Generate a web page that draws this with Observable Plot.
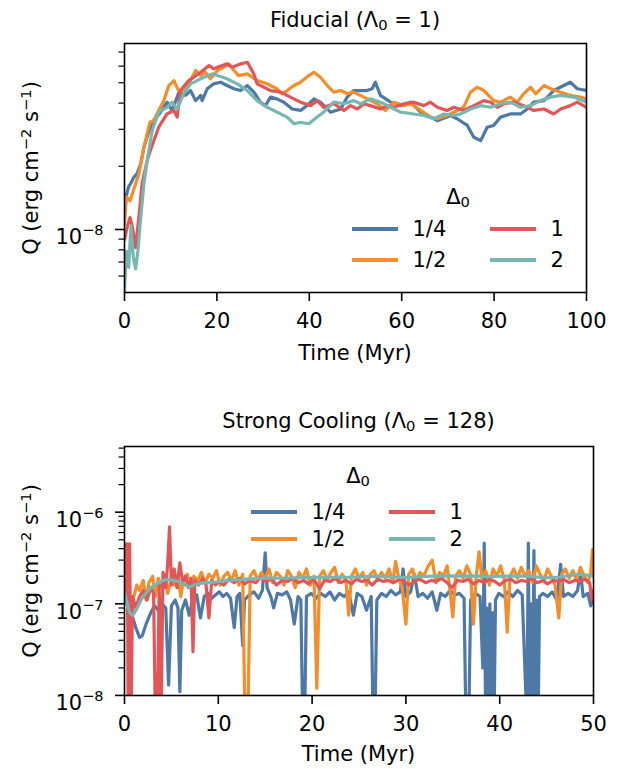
<!DOCTYPE html>
<html><head><meta charset="utf-8">
<script src="https://cdn.jsdelivr.net/npm/d3@7"></script>
<script src="https://cdn.jsdelivr.net/npm/@observablehq/plot@0.6"></script>
<style>
body{margin:0;background:#fff;font-family:"DejaVu Sans",sans-serif;}
#root{position:relative;width:632px;height:769px;overflow:hidden;background:#fff;}
.t{position:absolute;white-space:nowrap;font-size:21px;line-height:21px;height:21px;color:#000;font-family:"DejaVu Sans",sans-serif;}
.t sub{font-size:0.7em;line-height:0;vertical-align:-0.2em;}
.t sup{font-size:0.7em;line-height:0;vertical-align:0.45em;}
.ln{position:absolute;height:3.2px;}
.pl{position:absolute;left:0;}
</style></head><body><div id="root"></div>
<script>
// Series keys (Δ0) and colours
const keys = ["1/4", "1/2", "1", "2"];
const colors = ["#4e79a7", "#f28e2b", "#e15759", "#76b7b2"];

// ---------- Fiducial (Λ0 = 1): [time Myr, Q in 1e-8 erg cm^-2 s^-1]
const fid_q14 = [[0,1.2],[0.4,1.45],[0.9,1.6],[1.3,1.65],[2.0,1.77],[2.7,1.84],[3.5,2.05],[4.2,2.45],[5.2,2.9],[6.3,3.3],[7.8,3.62],[9.2,4.04],[10.3,3.69],[11.8,4.51],[13.2,4.35],[14.3,4.59],[15.4,4.11],[16.5,4.35],[16.8,4.11],[17.9,4.68],[19.3,4.94],[20.8,5.03],[22.2,4.85],[23.7,4.68],[25.1,4.59],[26.6,4.85],[28.0,4.51],[29.4,4.04],[30.5,3.89],[31.6,4.27],[33.0,4.19],[34.5,4.04],[36.3,3.75],[38.1,3.69],[39.5,3.89],[41.0,4.19],[42.4,4.04],[44.6,3.62],[46.8,3.75],[48.2,4.27],[49.6,4.59],[52.5,4.59],[53.6,4.68],[54.3,5.03],[55.4,4.35],[57.6,4.04],[59.7,3.89],[61.9,4.04],[64.1,3.62],[66.2,3.43],[67.7,3.30],[70.6,3.49],[72.0,3.37],[74.2,3.13],[75.6,2.75],[77.1,2.65],[78.5,3.07],[79.9,3.13],[81.4,3.43],[83.5,3.55],[85.7,3.55],[87.2,3.75],[88.6,4.04],[90.8,4.11],[92.9,4.59],[96.5,5.03],[98.0,4.68],[100,4.59]];
const fid_q12 = [[0,1.06],[0.4,1.43],[1.2,1.37],[1.7,1.48],[2.4,1.65],[3.1,1.84],[3.8,2.21],[4.2,2.47],[5.5,3.24],[6.3,3.30],[7.4,3.69],[8.5,4.11],[9.6,4.85],[10.7,5.12],[11.5,4.68],[12.1,4.51],[12.8,4.68],[13.9,4.94],[15.4,5.72],[16.5,5.41],[17.5,5.61],[18.6,5.22],[20.1,5.72],[21.5,5.93],[22.6,6.15],[23.7,5.72],[24.7,5.41],[26.6,5.51],[28.7,5.12],[30.9,4.94],[33.0,4.68],[34.1,4.43],[35.2,4.59],[36.7,4.85],[38.1,5.03],[39.9,5.41],[41.0,5.61],[42.4,5.31],[43.9,4.85],[45.3,4.51],[46.8,4.59],[48.2,4.43],[49.6,4.51],[51.8,4.27],[54.7,3.97],[56.5,3.69],[58.3,4.04],[60.5,3.89],[61.9,3.97],[64.1,3.69],[66.2,3.43],[67.7,3.37],[69.8,3.49],[71.3,3.62],[73.4,3.82],[74.9,4.51],[76.3,4.76],[77.8,4.59],[79.9,4.11],[81.4,4.04],[83.5,4.27],[85.0,4.04],[86.4,4.43],[87.9,4.76],[89.0,4.43],[90.8,4.85],[92.2,4.68],[94.4,4.51],[96.5,4.35],[98.7,4.27],[100,4.19]];
const fid_q1 = [[0,0.89],[0.6,1.03],[1.2,1.14],[1.7,1.03],[2.4,0.82],[3.1,1.14],[3.8,1.65],[4.9,2.13],[5.6,2.38],[7.4,3.07],[9.2,3.55],[10.7,3.69],[11.4,3.43],[12.1,4.59],[13.9,5.12],[15.0,5.31],[16.5,5.61],[18.3,6.04],[19.3,5.82],[20.1,5.93],[22.2,6.15],[23.3,5.93],[25.1,6.15],[26.6,6.26],[28.0,5.51],[28.7,4.94],[30.2,4.76],[31.6,4.59],[33.8,4.51],[35.9,4.27],[38.1,4.04],[40.3,3.89],[41.7,4.11],[43.1,3.82],[45.3,3.97],[47.5,3.69],[48.9,3.89],[50.4,3.75],[51.8,3.97],[53.2,3.89],[55.4,3.75],[56.9,3.89],[58.3,3.82],[60.5,3.97],[62.6,4.04],[64.8,3.89],[66.2,4.04],[67.7,3.82],[69.8,3.69],[71.3,3.82],[73.4,3.69],[75.6,3.89],[77.8,4.11],[79.2,4.04],[80.7,3.82],[82.1,3.97],[84.3,4.04],[86.4,3.89],[88.6,3.69],[90.8,3.75],[92.9,3.55],[94.4,3.75],[96.5,3.89],[98.0,4.04],[100,3.82]];
const fid_q2 = [[0,0.51],[0.4,0.79],[0.9,0.66],[1.4,1.04],[1.9,0.74],[2.4,0.65],[2.9,0.79],[3.5,1.14],[4.2,1.65],[4.9,2.13],[6.0,2.96],[7.4,3.62],[9.2,3.82],[10.3,4.04],[11.4,3.75],[12.8,4.43],[14.3,4.94],[15.7,5.12],[17.2,5.31],[19.0,5.51],[20.1,5.41],[22.2,5.22],[24.4,4.94],[26.6,4.59],[28.7,4.11],[30.9,3.82],[33.0,3.62],[35.2,3.43],[36.7,3.19],[38.1,3.24],[39.9,3.19],[41.7,3.43],[43.1,3.62],[45.3,4.04],[47.5,3.97],[49.6,4.11],[51.1,3.97],[53.2,4.19],[55.4,4.04],[57.6,3.82],[59.7,3.62],[62.6,3.55],[64.8,3.49],[67.0,3.37],[69.1,3.55],[71.3,3.49],[72.7,3.55],[74.9,3.75],[77.1,3.89],[79.2,3.82],[81.4,3.97],[83.5,4.04],[85.7,3.82],[87.9,3.89],[90.0,4.11],[92.2,4.27],[94.4,4.35],[97.3,4.27],[100,4.04]];

// ---------- Strong Cooling (Λ0 = 128): [time Myr, Q in 1e-7 erg cm^-2 s^-1]
const sc_q14 = [[0,1.1],[0.4,0.95],[0.8,0.75],[1.2,0.55],[1.6,0.43],[1.9,0.45],[2.3,0.6],[2.8,0.8],[3.2,0.95],[3.6,0.85],[4.0,1.0],[4.4,0.9],[4.7,0.13],[5.0,0.95],[5.4,1.1],[5.7,0.9],[5.9,0.11],[6.1,0.85],[6.5,1.1],[6.9,0.75],[7.3,1.15],[7.7,1.25],[8.1,0.7],[8.5,1.2],[8.9,1.3],[9.3,1.15],[9.7,1.25],[10.1,1.35],[10.5,1.2],[10.9,1.3],[11.3,1.15],[11.7,0.55],[12.0,1.2],[12.3,1.3],[12.6,0.35],[12.8,1.1],[13.3,1.25],[13.8,1.35],[14.3,1.15],[14.7,1.4],[15.0,3.6],[15.2,1.5],[15.6,1.2],[15.9,0.9],[16.3,1.3],[16.8,1.25],[17.3,1.35],[17.7,1.1],[18.1,0.6],[18.5,1.2],[18.8,1.1],[19.0,0.05],[19.2,0.05],[19.4,1.2],[19.9,1.3],[20.4,1.15],[20.9,1.3],[21.4,1.2],[21.9,1.35],[22.4,1.1],[22.9,1.3],[23.4,1.2],[23.9,1.35],[24.4,0.75],[24.8,1.3],[25.3,1.2],[25.8,0.85],[26.3,1.2],[26.5,0.05],[26.7,0.05],[26.9,1.1],[27.4,1.3],[27.9,1.2],[28.4,1.4],[28.9,1.25],[29.4,1.35],[29.7,2.4],[30.0,1.2],[30.5,1.35],[30.9,2.1],[31.3,1.2],[31.8,1.3],[32.3,1.15],[32.8,1.35],[33.3,0.85],[33.7,1.3],[34.2,1.2],[34.7,1.4],[35.2,1.25],[35.7,1.3],[36.2,1.15],[36.4,0.05],[36.7,0.05],[36.9,1.1],[37.4,1.3],[37.9,1.2],[38.2,0.2],[38.35,4.6],[38.5,0.05],[38.65,0.9],[38.8,0.05],[38.95,1.0],[39.1,0.05],[39.25,0.8],[39.4,0.05],[39.55,1.1],[39.9,1.3],[40.4,1.2],[40.9,1.35],[41.4,1.2],[41.9,1.4],[42.4,1.25],[42.9,0.05],[43.05,4.6],[43.2,0.05],[43.35,1.0],[43.5,0.05],[43.65,3.8],[43.8,0.05],[43.95,1.1],[44.1,0.05],[44.25,1.2],[44.6,1.3],[45.1,1.2],[45.6,1.35],[46.1,1.1],[46.5,2.7],[46.8,1.2],[47.3,1.3],[47.8,1.2],[48.3,1.4],[48.6,2.3],[48.9,1.2],[49.4,1.3],[49.7,0.95],[50,1.2]];
const sc_q12 = [[0.3,1.3],[0.6,1.0],[1.0,1.2],[1.3,1.6],[1.6,1.4],[2.0,1.8],[2.3,1.1],[2.6,1.7],[3.0,2.0],[3.3,1.2],[3.6,1.9],[4.0,1.5],[4.3,2.1],[4.6,1.3],[5.0,1.9],[5.3,1.6],[5.7,2.0],[6.0,1.2],[6.3,1.9],[6.7,2.1],[7.0,1.5],[7.4,2.0],[7.8,1.8],[8.2,2.2],[8.6,1.7],[9.0,2.1],[9.4,1.9],[9.8,2.3],[10.2,1.6],[10.6,2.0],[11.0,2.2],[11.4,1.8],[11.8,2.3],[12.2,1.6],[12.6,2.1],[12.85,0.05],[13.15,0.05],[13.4,2.0],[13.8,2.3],[14.2,1.8],[14.6,2.2],[15.0,1.9],[15.4,2.4],[15.8,1.7],[16.2,2.2],[16.6,2.0],[17.0,1.6],[17.4,2.3],[17.8,2.0],[18.2,1.5],[18.6,2.2],[19.0,1.9],[19.4,2.4],[19.8,1.6],[20.2,2.0],[20.5,0.12],[20.8,2.0],[21.2,2.3],[21.6,1.8],[22.0,2.2],[22.4,2.5],[22.8,1.7],[23.2,2.1],[23.6,1.8],[23.9,0.75],[24.2,2.0],[24.6,2.4],[25.0,1.9],[25.4,2.2],[25.8,1.6],[26.2,2.1],[26.6,2.3],[27.0,1.8],[27.4,2.2],[27.8,1.9],[28.2,2.4],[28.6,1.7],[28.9,2.9],[29.2,2.0],[29.6,1.5],[30.0,0.6],[30.3,2.1],[30.7,2.4],[31.1,1.8],[31.5,2.2],[31.9,2.0],[32.3,2.5],[32.8,3.0],[33.2,1.7],[33.6,2.2],[34.0,2.0],[34.4,2.6],[34.7,1.4],[35.0,0.72],[35.3,2.0],[35.7,2.3],[36.1,1.9],[36.5,2.6],[36.9,2.1],[37.2,0.6],[37.5,2.0],[37.8,3.7],[38.1,1.9],[38.5,2.3],[38.9,1.6],[39.3,2.4],[39.7,2.0],[40.1,2.6],[40.5,1.8],[40.8,0.49],[41.1,2.0],[41.5,2.4],[41.9,1.9],[42.3,2.5],[42.7,2.0],[43.1,2.3],[43.5,1.7],[43.9,2.6],[44.3,2.1],[44.7,1.8],[45.1,2.4],[45.5,2.0],[45.9,1.6],[46.3,0.7],[46.6,2.1],[47.0,2.4],[47.4,1.9],[47.8,2.3],[48.2,1.8],[48.6,2.5],[49.0,2.0],[49.4,1.7],[49.7,2.2],[49.9,3.9],[50,2.0]];
const sc_q1 = [[0,1.1],[0.15,4.5],[0.3,4.5],[0.4,0.05],[0.55,4.5],[0.7,0.05],[0.85,1.2],[1.2,0.9],[1.6,1.2],[2.0,1.4],[2.4,1.1],[2.8,1.5],[3.1,1.3],[3.3,0.05],[3.5,0.05],[3.7,1.6],[3.9,0.05],[4.1,2.2],[4.4,1.5],[4.6,2.7],[4.8,6.9],[5.0,1.6],[5.3,2.4],[5.6,1.5],[5.9,2.8],[6.2,1.7],[6.5,2.0],[6.8,1.5],[7.1,1.9],[7.3,0.3],[7.5,1.8],[7.9,1.6],[8.3,1.9],[8.7,1.6],[9.0,0.7],[9.3,1.8],[9.7,1.6],[10.0,1.75],[10.6,1.6],[11.1,1.85],[11.7,1.7],[12.3,1.9],[12.8,1.65],[13.4,1.8],[14.0,1.7],[14.5,1.95],[15.1,1.75],[15.7,1.85],[16.2,1.6],[16.8,1.8],[17.4,1.75],[17.9,1.9],[18.5,1.7],[19.1,1.8],[19.6,1.65],[20.2,1.85],[20.8,1.45],[21.3,1.8],[21.9,1.75],[22.5,1.9],[23.0,1.7],[23.6,1.8],[24.2,1.65],[24.7,1.85],[25.3,1.75],[25.9,1.8],[26.4,1.6],[27.0,1.85],[27.6,1.75],[28.1,1.8],[28.7,1.7],[29.3,1.85],[29.8,1.75],[30.4,1.6],[31.0,1.8],[31.5,1.85],[32.1,1.7],[32.7,1.8],[33.2,1.75],[33.8,1.9],[34.4,1.7],[34.9,1.5],[35.5,1.8],[36.1,1.75],[36.6,1.85],[37.2,1.65],[37.8,1.8],[38.3,1.7],[38.9,1.85],[39.5,1.75],[40.0,1.6],[40.6,1.8],[41.2,1.85],[41.7,1.7],[42.3,1.8],[42.9,1.75],[43.4,1.9],[44.0,1.7],[44.6,1.8],[45.1,1.65],[45.7,1.8],[46.3,1.75],[46.8,1.85],[47.4,1.7],[48.0,1.8],[48.5,1.75],[49.1,1.85],[49.6,1.7],[49.8,1.1],[50,1.4]];
const sc_q2 = [[0,1.29],[0.3,1.0],[0.6,0.78],[0.9,0.75],[1.3,0.88],[1.8,1.12],[2.4,1.35],[3.0,1.55],[3.6,1.68],[4.1,1.8],[4.6,1.84],[5.2,1.8],[5.8,1.75],[6.4,1.62],[6.9,1.52],[7.5,1.62],[8.2,1.68],[9.0,1.7],[10.0,1.74],[11.0,1.8],[12.0,1.82],[13.0,1.86],[14.0,1.88],[15.0,1.92],[16.5,1.9],[18.0,1.92],[19.5,1.95],[21.0,1.93],[22.5,1.96],[24.0,1.95],[25.5,1.98],[27.0,2.0],[28.5,1.97],[30.0,1.93],[31.5,1.98],[33.0,2.0],[34.5,2.02],[36.0,2.0],[37.5,2.02],[39.0,1.98],[40.5,2.0],[42.0,2.02],[43.5,1.98],[45.0,1.92],[46.5,1.96],[47.5,2.05],[48.5,2.1],[50,2.02]];

// Axis ticks
const fidXTicks = [0, 20, 40, 60, 80, 100];
const fidYMajor = [1e-8];
const fidYMinor = [6e-9, 7e-9, 8e-9, 9e-9, 2e-8, 3e-8, 4e-8, 5e-8, 6e-8, 7e-8];
const scXTicks = [0, 10, 20, 30, 40, 50];
const scYMajor = [1e-8, 1e-7, 1e-6];
const scYMinor = [2e-8,3e-8,4e-8,5e-8,6e-8,7e-8,8e-8,9e-8,2e-7,3e-7,4e-7,5e-7,6e-7,7e-7,8e-7,9e-7,2e-6,3e-6,4e-6,5e-6];

const root = document.getElementById("root");
const FS = 21;

function addText(html, x, baseline, anchor) {
  const d = document.createElement("div");
  d.className = "t";
  d.innerHTML = html;
  d.style.top = (baseline - 0.846 * FS) + "px";
  root.appendChild(d);
  const w = d.getBoundingClientRect().width;
  d.style.left = (anchor === "middle" ? x - w / 2 : anchor === "end" ? x - w : x) + "px";
  return d;
}
function addYLabel(cx, cy) {
  const d = document.createElement("div");
  d.className = "t";
  d.innerHTML = "Q (erg cm<sup>−2</sup> s<sup>−1</sup>)";
  root.appendChild(d);
  d.style.left = cx + "px";
  d.style.top = cy + "px";
  d.style.transform = "translate(-50%,-50%) rotate(-90deg)";
}
function addLegend(titleX, titleBase, rows, col1, col2, lineLen, textGap) {
  addText("Δ<sub>0</sub>", titleX, titleBase, "middle");
  const order = [[0, 0, 0], [2, 1, 0], [1, 0, 1], [3, 1, 1]]; // key, col, row
  order.forEach(([k, c, r]) => {
    const lx = c === 0 ? col1 : col2;
    const y = rows[r];
    const ln = document.createElement("div");
    ln.className = "ln";
    ln.style.left = lx + "px";
    ln.style.width = lineLen + "px";
    ln.style.top = (y - 1.6) + "px";
    ln.style.background = colors[k];
    root.appendChild(ln);
    addText(keys[k], lx + lineLen + textGap, y + 7.7, "start");
  });
}

function makePanel(cfg) {
  const rows = [];
  cfg.series.forEach((arr, i) => arr.forEach(([t, q]) => rows.push({t, q: q * cfg.unit, k: keys[i]})));
  const svg = Plot.plot({
    width: 632, height: cfg.height,
    marginLeft: 124, marginRight: cfg.marginRight, marginTop: cfg.marginTop, marginBottom: cfg.marginBottom,
    style: {fontFamily: '"DejaVu Sans", sans-serif', fontSize: FS + "px", background: "transparent", overflow: "visible", color: "#000"},
    x: {domain: cfg.xDomain},
    y: {type: "log", domain: cfg.yDomain},
    color: {domain: keys, range: colors},
    marks: [
      Plot.line(rows, {x: "t", y: "q", z: "k", stroke: "k", strokeWidth: 3.2, strokeLinejoin: "round", clip: true}),
      Plot.axisX({ticks: cfg.xTicks, tickSize: 9, tickPadding: 12, tickFormat: d => String(d), label: null, strokeWidth: 1.6}),
      Plot.axisY({ticks: cfg.yMajor, tickSize: 9, tickPadding: 12, tickFormat: d => "10^" + Math.round(Math.log10(d)), label: null, strokeWidth: 1.6}),
      Plot.axisY({ticks: cfg.yMinor, tickSize: 5.5, tickFormat: () => "", label: null, strokeWidth: 1.2}),
      Plot.frame({stroke: "#000", strokeWidth: 1.6})
    ]
  });
  d3.select(svg).selectAll("text").each(function () {
    const s = this.textContent;
    if (s.startsWith("10^")) {
      const e = s.slice(3).replace("-", "−");
      const t = d3.select(this);
      t.text("10").attr("dy", "0.39em");
      t.append("tspan").attr("dy", -9).attr("font-size", "14.5px").text(e);
    }
  });
  const wrap = document.createElement("div");
  wrap.className = "pl";
  wrap.style.top = cfg.top + "px";
  wrap.appendChild(svg);
  root.appendChild(wrap);
}

makePanel({series: [fid_q14, fid_q12, fid_q1, fid_q2], unit: 1e-8, top: 0, height: 380,
  marginTop: 43, marginBottom: 88, marginRight: 46,
  xDomain: [0, 100], yDomain: [5.01e-9, 7.69e-8], xTicks: fidXTicks, yMajor: fidYMajor, yMinor: fidYMinor});
makePanel({series: [sc_q14, sc_q12, sc_q1, sc_q2], unit: 1e-7, top: 390, height: 379,
  marginTop: 56, marginBottom: 74, marginRight: 39,
  xDomain: [0, 50], yDomain: [0.998e-8, 5.21e-6], xTicks: scXTicks, yMajor: scYMajor, yMinor: scYMinor});

// Titles and axis labels
addText("Fiducial (Λ<sub>0</sub> = 1)", 355, 28, "middle");
addText("Time (Myr)", 355, 361, "middle");
addYLabel(31, 167.5);
addText("Strong Cooling (Λ<sub>0</sub> = 128)", 358.5, 429, "middle");
addText("Time (Myr)", 358.5, 762, "middle");
addYLabel(31, 570.5);

// Legends
addLegend(458, 205, [229, 260], 352, 490, 46, 14.5);
addLegend(358, 484, [512, 539], 251, 389, 46, 14.5);
</script></body></html>
